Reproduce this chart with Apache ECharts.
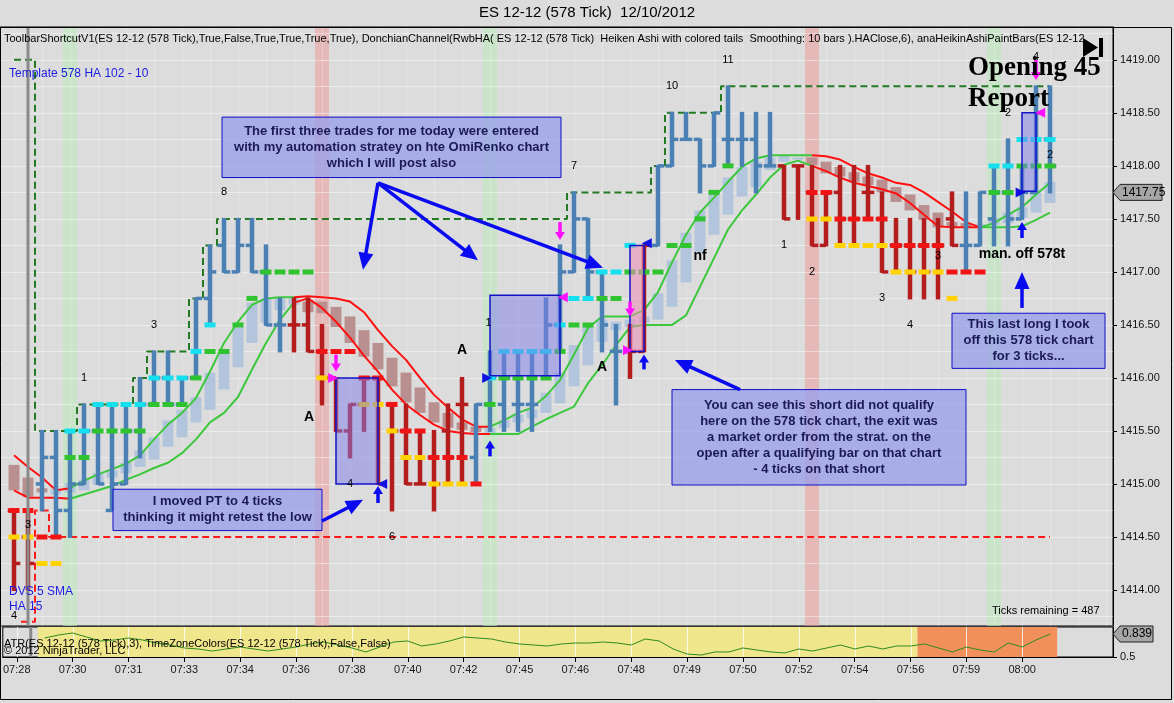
<!DOCTYPE html>
<html><head><meta charset="utf-8">
<script src="https://cdn.jsdelivr.net/npm/echarts@6/dist/echarts.min.js"></script>
<style>html,body{margin:0;padding:0;background:#dcdcdc;}#c{width:1174px;height:703px;}</style>
</head><body><div id="c"></div>
<script>
// ---------- data ----------
const timeLabels = ['07:28','07:30','07:31','07:33','07:34','07:36','07:38','07:40','07:42','07:45','07:46','07:48','07:49','07:50','07:52','07:54','07:56','07:59','08:00'];
const labelIdx = [0,4,8,12,16,20,24,28,32,36,40,44,48,52,56,60,64,68,72];
const priceTicks = [1414.0,1414.5,1415.0,1415.5,1416.0,1416.5,1417.0,1417.5,1418.0,1418.5,1419.0];
const gridPrices = [1413.75,1414.0,1414.25,1414.5,1414.75,1415.0,1415.25,1415.5,1415.75,1416.0,1416.25,1416.5,1416.75,1417.0,1417.25,1417.5,1417.75,1418.0,1418.25,1418.5,1418.75,1419.0,1419.25];

const high = [1414.75,1414.75,1415.5,1415.5,1415.5,1415.75,1415.75,1415.75,1415.75,1416.0,
1416.25,1416.25,1416.0,1416.75,1417.25,1417.5,1417.5,1417.5,1417.25,1416.75,
1416.75,1416.75,1416.5,1416.0,1415.75,1416.0,1416.0,1415.75,1415.75,1415.5,
1415.5,1415.75,1416.0,1415.75,1416.25,1416.25,1416.25,1416.25,1416.75,1417.25,
1417.75,1417.5,1417.0,1416.5,1416.5,1417.25,1418.0,1418.5,1418.5,1418.25,
1418.5,1418.75,1418.5,1418.5,1418.5,1418.0,1418.0,1418.0,1417.75,1418.0,
1418.0,1418.0,1417.75,1417.5,1417.5,1417.5,1417.5,1417.75,1417.75,1417.75,
1418.0,1418.25,1418.0,1418.75,1418.75];
const low = [1414.0,1414.0,1414.75,1414.5,1414.5,1415.0,1415.0,1414.75,1415.0,1415.25,
1415.75,1415.75,1415.75,1416.0,1416.5,1417.0,1417.0,1417.0,1416.5,1416.25,
1416.25,1416.25,1415.75,1415.5,1415.25,1415.5,1415.0,1414.75,1415.0,1415.0,
1414.75,1415.0,1415.0,1415.0,1415.5,1415.5,1415.5,1415.5,1416.0,1416.25,
1417.0,1416.75,1416.25,1415.75,1416.0,1416.25,1417.25,1418.0,1418.25,1417.75,
1418.0,1418.0,1418.0,1417.75,1418.0,1417.5,1417.5,1417.25,1417.25,1417.25,
1417.25,1417.5,1417.0,1417.0,1416.75,1416.75,1416.75,1417.25,1417.0,1417.25,
1417.25,1417.25,1417.5,1417.75,1417.75];
const open = [1414.75,1414.5,1415.0,1415.25,1414.75,1415.0,1415.5,1414.75,1415.0,1415.5,
1415.75,1416.0,1415.75,1416.0,1416.75,1417.25,1417.0,1417.25,1417.0,1416.5,
1416.5,1416.5,1416.25,1416.0,1415.5,1415.75,1416.0,1415.75,1415.5,1415.0,
1415.25,1415.5,1415.75,1415.25,1415.75,1415.75,1415.75,1415.75,1416.25,1416.5,
1417.0,1417.5,1417.0,1416.25,1416.25,1416.25,1417.25,1418.0,1418.25,1418.25,
1418.0,1418.25,1418.25,1418.25,1418.0,1418.0,1418.0,1417.75,1417.25,1417.75,
1417.5,1417.75,1417.5,1417.25,1417.25,1417.25,1417.25,1417.5,1417.25,1417.25,
1417.5,1417.75,1417.5,1417.75,1418.25];
const close = [1414.25,1414.25,1415.25,1414.75,1415.0,1415.5,1415.0,1415.0,1415.5,1415.75,
1416.0,1415.75,1416.0,1416.75,1417.0,1417.0,1417.25,1417.0,1416.5,1416.5,
1416.5,1416.25,1416.0,1415.5,1415.75,1416.0,1415.0,1415.5,1415.0,1415.0,
1415.0,1415.25,1415.75,1415.75,1416.0,1416.0,1415.75,1415.75,1416.5,1417.0,
1417.5,1417.0,1416.5,1416.25,1416.25,1417.25,1418.0,1418.25,1418.25,1418.0,
1418.5,1418.25,1418.25,1418.0,1418.0,1417.5,1418.0,1417.25,1417.75,1417.5,
1417.5,1417.75,1417.0,1417.25,1417.0,1417.0,1417.25,1417.25,1417.25,1417.75,
1417.75,1417.5,1417.75,1418.5,1418.0];
// paint colour runs: R = down (red), B = up (blue)
const paintRuns = [['R',2],['B',18],['R',13],['B',11],['R',2],['B',9],['R',13],['B',7]];

const haOpen = [1415.18,1415.06,1414.96,1414.90,1414.92,1414.94,1414.99,1415.06,1415.10,1415.16,
1415.23,1415.35,1415.44,1415.58,1415.70,1415.89,1416.10,1416.33,1416.52,1416.64,
1416.69,1416.72,1416.72,1416.67,1416.58,1416.45,1416.33,1416.19,1416.05,1415.91,
1415.77,1415.67,1415.58,1415.54,1415.48,1415.53,1415.58,1415.62,1415.67,1415.76,
1415.92,1416.12,1416.34,1416.45,1416.48,1416.52,1416.55,1416.67,1416.90,1417.18,
1417.35,1417.54,1417.71,1417.80,1417.96,1418.04,1418.06,1418.08,1418.04,1417.99,
1417.94,1417.90,1417.87,1417.80,1417.73,1417.63,1417.56,1417.47,1417.46,1417.42,
1417.44,1417.46,1417.51,1417.56,1417.65];
const haClose = [1414.94,1414.88,1414.92,1414.95,1415.01,1415.04,1415.10,1415.13,1415.20,1415.32,
1415.44,1415.60,1415.70,1415.82,1416.05,1416.24,1416.48,1416.71,1416.75,1416.75,
1416.75,1416.62,1416.61,1416.48,1416.33,1416.20,1416.08,1415.92,1415.77,1415.67,
1415.58,1415.53,1415.51,1415.49,1415.53,1415.60,1415.65,1415.70,1415.86,1416.05,
1416.31,1416.48,1416.55,1416.53,1416.55,1416.58,1416.80,1417.11,1417.37,1417.58,
1417.75,1417.89,1417.99,1418.04,1418.08,1418.10,1418.08,1418.01,1417.93,1417.90,
1417.85,1417.82,1417.75,1417.66,1417.58,1417.49,1417.42,1417.42,1417.42,1417.45,
1417.51,1417.56,1417.61,1417.75,1417.85];

const maUpper = [1415.27,1415.16,1415.06,1414.94,1414.96,1415.03,1415.09,1415.14,1415.19,1415.27,
1415.42,1415.56,1415.67,1415.81,1416.06,1416.33,1416.53,1416.69,1416.75,1416.76,
1416.76,1416.77,1416.76,1416.75,1416.72,1416.62,1416.45,1416.30,1416.17,1416.00,
1415.84,1415.72,1415.61,1415.54,1415.54,1415.60,1415.67,1415.72,1415.83,1415.98,
1416.22,1416.47,1416.58,1416.58,1416.58,1416.64,1416.81,1417.09,1417.35,1417.56,
1417.70,1417.85,1417.99,1418.07,1418.10,1418.10,1418.10,1418.10,1418.09,1418.06,
1417.99,1417.93,1417.89,1417.84,1417.82,1417.75,1417.66,1417.57,1417.47,1417.42,
1417.46,1417.54,1417.61,1417.73,1417.84];
const maLower = [1414.94,1414.87,1414.87,1414.87,1414.86,1414.90,1414.94,1414.98,1415.04,1415.09,
1415.15,1415.20,1415.29,1415.42,1415.58,1415.67,1415.82,1416.08,1416.33,1416.55,
1416.71,1416.75,1416.66,1416.53,1416.38,1416.21,1416.06,1415.89,1415.75,1415.65,
1415.56,1415.50,1415.48,1415.47,1415.47,1415.47,1415.47,1415.54,1415.61,1415.67,
1415.73,1415.95,1416.12,1416.31,1416.48,1416.50,1416.50,1416.50,1416.59,1416.86,
1417.13,1417.40,1417.58,1417.73,1417.89,1418.01,1418.05,1418.00,1417.95,1417.89,
1417.84,1417.81,1417.78,1417.74,1417.65,1417.54,1417.43,1417.42,1417.42,1417.42,
1417.42,1417.42,1417.43,1417.49,1417.56];
// trend regimes for the MA colour: [fromIdx, toIdx, 'r'|'g']
const maRegimes = [[0,4,'r'],[4,20,'g'],[20,34,'r'],[34,57,'g'],[57,69,'r'],[69,74,'g']];

const donchianUpper = [1419.0,1419.0,1415.5,1415.5,1415.5,1415.75,1415.75,1415.75,1415.75,1416.0,
1416.25,1416.25,1416.25,1416.75,1417.25,1417.5,1417.5,1417.5,1417.5,1417.5,
1417.5,1417.5,1417.5,1417.5,1417.5,1417.5,1417.5,1417.5,1417.5,1417.5,
1417.5,1417.5,1417.5,1417.5,1417.5,1417.5,1417.5,1417.5,1417.5,1417.5,
1417.75,1417.75,1417.75,1417.75,1417.75,1417.75,1418.0,1418.5,1418.5,1418.5,
1418.5,1418.75,1418.75,1418.75,1418.75,1418.75,1418.75,1418.75,1418.75,1418.75,
1418.75,1418.75,1418.75,1418.75,1418.75,1418.75,1418.75,1418.75,1418.75,1418.75,
1418.75,1418.75,1418.75,1418.75,1418.75];
const donchianLower = [null,1413.7,1414.75,1414.5,1414.5,1414.5,1414.5,1414.5,1414.5,1414.5,
1414.5,1414.5,1414.5,1414.5,1414.5,1414.5,1414.5,1414.5,1414.5,1414.5,
1414.5,1414.5,1414.5,1414.5,1414.5,1414.5,1414.5,1414.5,1414.5,1414.5,
1414.5,1414.5,1414.5,1414.5,1414.5,1414.5,1414.5,1414.5,1414.5,1414.5,
1414.5,1414.5,1414.5,1414.5,1414.5,1414.5,1414.5,1414.5,1414.5,1414.5,
1414.5,1414.5,1414.5,1414.5,1414.5,1414.5,1414.5,1414.5,1414.5,1414.5,
1414.5,1414.5,1414.5,1414.5,1414.5,1414.5,1414.5,1414.5,1414.5,1414.5,
1414.5,1414.5,1414.5,1414.5,1414.5];

const atr = [null,null,0.780,0.824,0.854,0.795,0.736,0.751,0.780,0.751,
0.706,0.677,0.633,0.618,0.588,0.618,0.647,0.618,0.588,0.618,
0.647,0.692,0.721,0.677,0.633,0.574,0.647,0.721,0.736,0.662,
0.692,0.736,0.795,0.780,0.765,0.721,0.692,0.677,0.662,0.692,
0.706,0.706,0.721,0.706,0.677,0.765,0.736,0.618,0.544,0.529,
0.574,0.574,0.633,0.603,0.574,0.559,0.618,0.588,0.633,0.677,
0.618,0.662,0.618,0.662,0.662,0.692,0.633,0.574,0.647,0.603,
0.574,0.706,0.647,0.751,0.839];
const lastPrice = 1417.75;
const lastAtr = 0.839;

// stop / signal segments: [fromIdx, toIdx, price, colour]
const stops = [
[0,1,1414.75,'r'],[0,1,1414.5,'y'],[2,3,1414.5,'r'],[2,3,1414.25,'y'],
[4,5,1415.5,'c'],[4,5,1415.25,'g'],[6,9,1415.75,'c'],[6,9,1415.5,'g'],
[10,12,1416.0,'c'],[10,12,1415.75,'g'],[13,13,1416.25,'c'],[13,13,1416.0,'g'],
[14,14,1416.5,'c'],[14,15,1416.25,'g'],[16,16,1416.5,'g'],[17,17,1416.75,'g'],[18,21,1417.0,'g'],
[22,24,1416.25,'r'],[22,22,1416.0,'y'],[25,26,1416.0,'r'],[25,26,1415.75,'y'],[27,27,1415.75,'r'],[27,27,1415.5,'y'],
[28,29,1415.5,'r'],[28,29,1415.25,'y'],[30,32,1415.25,'r'],[30,32,1415.0,'y'],[33,33,1415.0,'r'],
[34,34,1416.0,'c'],[34,34,1415.75,'g'],[35,38,1416.25,'c'],[35,38,1416.0,'g'],[39,39,1416.5,'c'],[39,39,1416.25,'g'],
[40,41,1416.75,'c'],[40,41,1416.5,'g'],[42,43,1416.75,'g'],[42,43,1417.0,'c'],[44,46,1417.0,'g'],[44,44,1417.25,'c'],
[47,48,1417.25,'g'],[49,49,1417.5,'g'],[50,50,1417.75,'g'],[51,51,1418.0,'g'],
[57,58,1417.75,'r'],[57,58,1417.5,'y'],[59,62,1417.5,'r'],[59,62,1417.25,'y'],[63,66,1417.25,'r'],[63,66,1417.0,'y'],
[67,69,1417.0,'r'],[67,67,1416.75,'y'],
[70,71,1417.75,'g'],[70,71,1418.0,'c'],[72,74,1418.0,'g'],[72,74,1418.25,'c']
];
// trade boxes: [fromIdx, toIdx, top, bottom, kind]
const tradeBoxes = [[23,26,1416.0,1415.0,'b'],[34,39,1416.78,1416.02,'b'],[44,45,1417.25,1416.25,'p'],[72,73,1418.5,1417.76,'b']];
// highlighted bars: [idx, colour]
const bands = [[4,'g'],[22,'r'],[34,'g'],[57,'r'],[70,'g']];
const grayLineIdx = 1;
// ATR pane background zones: [fromIdx, toIdx, colour]
const atrZones = [[1.5,64.5,'#f0e68c'],[64.5,74.5,'#f2905c']];

// text marks: [idx, price, text, style]
const labels = [
[15,1417.75,'8','n'],[10,1416.5,'3','n'],[5,1416.0,'1','n'],[21.07,1415.63,'A','b'],[32,1416.26,'A','b'],[42,1416.10,'A','b'],
[40,1418.0,'7','n'],[47,1418.75,'10','n'],[51,1419.0,'11','n'],[49,1417.15,'nf','b'],[55,1417.25,'1','n'],[57,1417.0,'2','n'],
[62,1416.75,'3','n'],[64,1416.5,'4','n'],[66,1417.15,'3','n'],[71,1418.5,'2','n'],[74,1418.1,'2','n'],[73,1419.03,'4','n'],
[72,1417.17,'man. off 578t','b'],[24,1415.0,'4','n'],[27,1414.5,'6','n'],[1,1414.61,'3','n'],[0,1413.75,'4','n'],[33.9,1416.52,'1','n'],
[68.14,1418.92,'Opening 45','big'],[68.14,1418.63,'Report','big']
];
// callouts: [fromIdx, toIdx, top, bottom, lines]
const callouts = [
[14.86,39.07,1418.46,1417.89,['The first three trades for me today were entered','with my automation stratey on hte OmiRenko chart','which I will post also']],
[7.07,22.0,1414.95,1414.56,['I moved PT to 4 ticks','thinking it might retest the low']],
[47.0,68.0,1415.89,1414.99,['You can see this short did not qualify','here on the 578 tick chart, the exit was','a market order from the strat. on the','open after a qualifying bar on that chart','- 4 ticks on that short']],
[67.0,77.93,1416.61,1416.09,['This last long I took','off this 578 tick chart','for 3 ticks...']]
];
// arrows: [fromIdx, fromPrice, toIdx, toPrice, kind]
const arrows = [
[26,1417.84,24.93,1417.02,'big'],[26,1417.84,33.14,1417.11,'big'],[26,1417.84,42.07,1417.04,'big'],
[22,1414.65,24.93,1414.85,'big'],[51.86,1415.89,47.21,1416.17,'big'],[72,1416.66,72,1417.0,'big'],
[26,1414.82,26,1414.98,'up'],[34,1415.26,34,1415.41,'up'],[45,1416.08,45,1416.22,'up'],[72,1417.32,72,1417.47,'up'],
[23,1416.22,23,1416.06,'dn'],[39,1417.47,39,1417.30,'dn'],[44,1416.72,44,1416.58,'dn'],[73,1419.0,73,1418.81,'dn']
];
// small triangles: [idx, price, direction, colour]
const markers = [
[22.8,1416.0,'r','m'],[39.2,1416.76,'l','m'],[43.86,1416.26,'r','m'],[73.3,1418.5,'l','m'],
[26.3,1415.0,'l','b'],[33.8,1416.0,'r','b'],[45.2,1417.27,'l','b'],[71.9,1417.75,'r','b']
];

// ---------- chart ----------
const YMIN = 1413.66, YMAX = 1419.31;
const FONT = '"Liberation Sans", Arial, sans-serif';
const paint = [];
paintRuns.forEach(([c, n]) => { for (let k = 0; k < n; k++) paint.push(c); });
const idxs = high.map((_, i) => i);
const STOPC = {c:'#14e0ee', g:'#2fc42f', r:'#f01414', y:'#ffd200'};

function bgRender(params, api) {
  const cs = params.coordSys, ch = [];
  bands.forEach(([i, k]) => {
    const a = api.coord([i - 0.5, YMAX])[0], b = api.coord([i + 0.5, YMAX])[0];
    ch.push({type:'rect', shape:{x:a, y:cs.y, width:b - a, height:cs.height},
      style:{fill: k === 'g' ? 'rgba(185,235,185,0.55)' : 'rgba(240,150,150,0.5)'}});
  });
  gridPrices.forEach(p => {
    const y = Math.round(api.coord([0, p])[1]) + 0.5;
    ch.push({type:'line', shape:{x1:cs.x, y1:y, x2:cs.x + cs.width, y2:y}, style:{stroke:'rgba(255,255,255,0.42)', lineWidth:1}});
  });
  for (let i = 0; i <= 78; i += 2) {
    const x = Math.round(api.coord([i, YMAX])[0]) + 0.5;
    ch.push({type:'line', shape:{x1:x, y1:cs.y, x2:x, y2:cs.y + cs.height}, style:{stroke:'rgba(255,255,255,0.25)', lineWidth:1}});
  }
  return {type:'group', children:ch};
}
function atrBgRender(params, api) {
  const cs = params.coordSys, ch = [];
  atrZones.forEach(([a, b, col]) => {
    const xa = api.coord([a, 0.7])[0], xb = api.coord([b, 0.7])[0];
    ch.push({type:'rect', shape:{x:xa, y:cs.y, width:xb - xa, height:cs.height}, style:{fill:col}});
  });
  labelIdx.forEach(i => {
    const x = Math.round(api.coord([i, 0.7])[0]) + 0.5;
    ch.push({type:'line', shape:{x1:x, y1:cs.y, x2:x, y2:cs.y + cs.height}, style:{stroke:'rgba(255,255,255,0.8)', lineWidth:1}});
  });
  const gx = api.coord([grayLineIdx, 0.7])[0];
  ch.push({type:'line', shape:{x1:gx, y1:cs.y, x2:gx, y2:cs.y + cs.height}, style:{stroke:'#8a8a8a', lineWidth:3}});
  return {type:'group', children:ch};
}
function haRender(params, api) {
  const i = api.value(0), o = api.value(1), c = api.value(2);
  const p1 = api.coord([i, Math.max(o, c)]), p2 = api.coord([i, Math.min(o, c)]);
  const w = api.size([1, 0])[0] * 0.78;
  return {type:'rect', shape:{x:p1[0] - w / 2, y:p1[1], width:w, height:Math.max(2, p2[1] - p1[1])},
    style:{fill: c >= o ? '#b3c5dd' : '#b98f8f'}};
}
function barRender(params, api) {
  const i = api.value(0);
  const h = api.coord([i, api.value(1)]), l = api.coord([i, api.value(2)]);
  const o = api.coord([i, api.value(3)]), c = api.coord([i, api.value(4)]);
  const col = api.value(5) ? '#b31d1d' : '#4a80b4';
  const t = api.size([1, 0])[0] * 0.45;
  return {type:'group', children:[
    {type:'line', shape:{x1:h[0], y1:h[1] - 1, x2:l[0], y2:l[1] + 1}, style:{stroke:col, lineWidth:4.5}},
    {type:'line', shape:{x1:o[0] - t, y1:o[1], x2:o[0], y2:o[1]}, style:{stroke:col, lineWidth:3.5}},
    {type:'line', shape:{x1:c[0], y1:c[1], x2:c[0] + t, y2:c[1]}, style:{stroke:col, lineWidth:3.5}}
  ]};
}
function stopRender(params, api) {
  const s = stops[params.dataIndex];
  const w = api.size([1, 0])[0];
  const a = api.coord([s[0], s[2]]), b = api.coord([s[1], s[2]]);
  return {type:'line', shape:{x1:a[0] - w / 2 + 1.5, y1:a[1], x2:b[0] + w / 2 - 1.5, y2:b[1]},
    style:{stroke:STOPC[s[3]], lineWidth:5, lineDash:[11, 3]}};
}
function boxRender(params, api) {
  const b = tradeBoxes[params.dataIndex];
  const p1 = api.coord([b[0], b[2]]), p2 = api.coord([b[1], b[3]]);
  return {type:'rect', shape:{x:p1[0], y:p1[1], width:p2[0] - p1[0], height:p2[1] - p1[1]},
    style:{fill: b[4] === 'p' ? 'rgba(236,140,180,0.55)' : 'rgba(125,125,235,0.5)', stroke:'#1212c8', lineWidth:1.5}};
}
function fgRender(params, api) {
  const cs = params.coordSys;
  const gx = api.coord([grayLineIdx, YMAX])[0];
  return {type:'line', shape:{x1:gx, y1:cs.y, x2:gx, y2:cs.y + cs.height}, style:{stroke:'#8a8a8a', lineWidth:3}};
}
function arrowShape(p0, p1, col, lw, L, W) {
  const dx = p1[0] - p0[0], dy = p1[1] - p0[1], len = Math.hypot(dx, dy) || 1;
  const ux = dx / len, uy = dy / len, nx = -uy, ny = ux;
  const bx = p1[0] - ux * L, by = p1[1] - uy * L;
  return [
    {type:'line', shape:{x1:p0[0], y1:p0[1], x2:bx + ux * 2, y2:by + uy * 2}, style:{stroke:col, lineWidth:lw}},
    {type:'polygon', shape:{points:[[p1[0], p1[1]], [bx + nx * W / 2, by + ny * W / 2], [bx - nx * W / 2, by - ny * W / 2]]}, style:{fill:col}}
  ];
}
function arrowRender(params, api) {
  const a = arrows[params.dataIndex];
  const p0 = api.coord([a[0], a[1]]), p1 = api.coord([a[2], a[3]]);
  let ch;
  if (a[4] === 'big') ch = arrowShape(p0, p1, '#0a0af0', 3.5, 17, 15);
  else if (a[4] === 'up') ch = arrowShape(p0, p1, '#0a0af0', 3.5, 8, 10);
  else ch = arrowShape(p0, p1, '#ff10ff', 3.5, 8, 10);
  return {type:'group', children:ch};
}
function markerRender(params, api) {
  const m = markers[params.dataIndex];
  const p = api.coord([m[0], m[1]]), s = 5;
  const pts = m[2] === 'r' ? [[p[0] + s, p[1]], [p[0] - s, p[1] - s], [p[0] - s, p[1] + s]]
                           : [[p[0] - s, p[1]], [p[0] + s, p[1] - s], [p[0] + s, p[1] + s]];
  return {type:'polygon', shape:{points:pts}, style:{fill: m[3] === 'm' ? '#ff10ff' : '#1010e0'}};
}
function labelRender(params, api) {
  const L = labels[params.dataIndex];
  const p = api.coord([L[0], L[1]]);
  const st = L[3];
  const font = st === 'n' ? '11px ' + FONT : st === 'b' ? 'bold 14px ' + FONT : 'bold 27px "Liberation Serif", "Times New Roman", serif';
  return {type:'text', x:p[0], y:p[1], style:{text:L[2], font:font, fill:'#000',
    align: st === 'big' ? 'left' : 'center', verticalAlign:'middle', textAlign: st === 'big' ? 'left' : 'center', textVerticalAlign:'middle'}};
}
function calloutRender(params, api) {
  const c = callouts[params.dataIndex];
  const p1 = api.coord([c[0], c[2]]), p2 = api.coord([c[1], c[3]]);
  return {type:'group', children:[
    {type:'rect', shape:{x:p1[0], y:p1[1], width:p2[0] - p1[0], height:p2[1] - p1[1]},
      style:{fill:'rgba(150,155,236,0.72)', stroke:'#1010c8', lineWidth:1}},
    {type:'text', x:(p1[0] + p2[0]) / 2, y:(p1[1] + p2[1]) / 2,
      style:{text:c[4].join('\n'), font:'bold 13px ' + FONT, fill:'#1a1a55', lineHeight:16,
        align:'center', verticalAlign:'middle', textAlign:'center', textVerticalAlign:'middle'}}
  ]};
}
function tagShape(p, text, w) {
  const x = p[0], y = p[1];
  return {type:'group', children:[
    {type:'polygon', shape:{points:[[x, y], [x + 7, y - 8], [x + w, y - 8], [x + w, y + 8], [x + 7, y + 8]]},
      style:{fill:'#a6a6a6', stroke:'#222', lineWidth:1}},
    {type:'text', x:x + 9, y:y, style:{text:text, font:'12px ' + FONT, fill:'#000', align:'left', verticalAlign:'middle', textAlign:'left', textVerticalAlign:'middle'}}
  ]};
}

const series = [];
series.push({type:'custom', xAxisIndex:0, yAxisIndex:0, silent:true, z:1, renderItem:bgRender, data:[[0, 1416]]});
series.push({type:'custom', xAxisIndex:1, yAxisIndex:1, silent:true, z:1, renderItem:atrBgRender, data:[[0, 0.7]]});
series.push({type:'custom', xAxisIndex:0, yAxisIndex:0, z:2, renderItem:haRender,
  data: idxs.map(i => [i, haOpen[i], haClose[i]])});
series.push({type:'line', xAxisIndex:0, yAxisIndex:0, z:3, step:'middle', symbol:'none',
  lineStyle:{color:'#237a23', width:2, type:[7, 4]}, data: idxs.map(i => [i, donchianUpper[i]])});
series.push({type:'line', xAxisIndex:0, yAxisIndex:0, z:3, step:'middle', symbol:'none', connectNulls:false,
  lineStyle:{color:'#ff1a1a', width:2, type:[7, 4]}, data: idxs.map(i => [i, donchianLower[i]])});
maRegimes.forEach(([a, b, k]) => {
  const col = k === 'r' ? '#ff1010' : '#3cc83c';
  [maUpper, maLower].forEach(arr => {
    const d = [];
    for (let i = a; i <= b; i++) d.push([i, arr[i]]);
    series.push({type:'line', xAxisIndex:0, yAxisIndex:0, z:4, symbol:'none', lineStyle:{color:col, width:2}, data:d});
  });
});
series.push({type:'custom', xAxisIndex:0, yAxisIndex:0, z:5, renderItem:barRender,
  data: idxs.map(i => [i, high[i], low[i], open[i], close[i], paint[i] === 'R' ? 1 : 0])});
series.push({type:'custom', xAxisIndex:0, yAxisIndex:0, z:6, renderItem:stopRender, data: stops.map(s => [s[0], s[2]])});
series.push({type:'custom', xAxisIndex:0, yAxisIndex:0, z:7, renderItem:boxRender, data: tradeBoxes.map(b => [b[0], b[2]])});
series.push({type:'custom', xAxisIndex:0, yAxisIndex:0, z:8, silent:true, renderItem:fgRender, data:[[0, 1416]]});
series.push({type:'custom', xAxisIndex:0, yAxisIndex:0, z:9, renderItem:calloutRender, data: callouts.map(c => [c[0], c[2]])});
series.push({type:'custom', xAxisIndex:0, yAxisIndex:0, z:10, renderItem:arrowRender, data: arrows.map(a => [a[0], a[1]])});
series.push({type:'custom', xAxisIndex:0, yAxisIndex:0, z:10, renderItem:markerRender, data: markers.map(m => [m[0], m[1]])});
series.push({type:'custom', xAxisIndex:0, yAxisIndex:0, z:11, renderItem:labelRender, data: labels.map(l => [l[0], l[1]]), clip:false});
series.push({type:'custom', xAxisIndex:0, yAxisIndex:0, z:12, clip:false,
  renderItem:(params, api) => tagShape(api.coord([78.5, lastPrice]), lastPrice.toFixed(2), 49), data:[[78.5, lastPrice]]});
series.push({type:'line', xAxisIndex:1, yAxisIndex:1, z:5, symbol:'none', lineStyle:{color:'#2e8a1e', width:1},
  data: idxs.filter(i => atr[i] !== null).map(i => [i, atr[i]])});
series.push({type:'custom', xAxisIndex:1, yAxisIndex:1, z:12, clip:false,
  renderItem:(params, api) => tagShape(api.coord([78.5, lastAtr]), lastAtr.toFixed(3), 40), data:[[78.5, lastAtr]]});

const option = {
  animation:false,
  backgroundColor:'#dcdcdc',
  textStyle:{fontFamily:FONT},
  grid:[
    {left:0, right:61, top:27, height:599, show:true, backgroundColor:'#dcdcdc', borderColor:'#000', borderWidth:1},
    {left:0, right:61, top:627, height:30, show:true, backgroundColor:'#dcdcdc', borderColor:'#000', borderWidth:1}
  ],
  xAxis:[
    {gridIndex:0, type:'value', min:-1, max:78.5, axisLine:{show:false, onZero:false}, axisTick:{show:false}, axisLabel:{show:false}, splitLine:{show:false}},
    {gridIndex:1, type:'value', min:-1, max:78.5, position:'bottom',
      axisLine:{show:true, onZero:false, lineStyle:{color:'#000', width:1}},
      axisTick:{show:true, customValues:labelIdx, length:5, lineStyle:{color:'#000'}},
      axisLabel:{customValues:labelIdx, formatter:v => timeLabels[labelIdx.indexOf(Math.round(v))] || '', fontSize:11, color:'#1a1a1a', margin:7, fontFamily:FONT},
      splitLine:{show:false}}
  ],
  yAxis:[
    {gridIndex:0, type:'value', position:'right', min:YMIN, max:YMAX,
      axisLine:{show:true, onZero:false, lineStyle:{color:'#000'}},
      axisTick:{show:true, customValues:priceTicks, length:4, lineStyle:{color:'#000'}},
      axisLabel:{customValues:priceTicks, formatter:v => v.toFixed(2), fontSize:11, color:'#111', margin:7, fontFamily:FONT},
      splitLine:{show:false}},
    {gridIndex:1, type:'value', position:'right', min:0.5, max:0.942,
      axisLine:{show:true, onZero:false, lineStyle:{color:'#000'}},
      axisTick:{show:true, customValues:[0.5], length:4, lineStyle:{color:'#000'}},
      axisLabel:{customValues:[0.5], formatter:v => String(v), fontSize:11, color:'#111', margin:7, fontFamily:FONT},
      splitLine:{show:false}}
  ],
  series: series,
  graphic:[
    {type:'text', left:'center', top:5, style:{text:'ES 12-12 (578 Tick)  12/10/2012', font:'15px ' + FONT, fill:'#000'}, z:100},
    {type:'text', x:4, y:33, style:{text:'ToolbarShortcutV1(ES 12-12 (578 Tick),True,False,True,True,True,True), DonchianChannel(RwbHA( ES 12-12 (578 Tick)  Heiken Ashi with colored tails  Smoothing: 10 bars ).HAClose,6), anaHeikinAshiPaintBars(ES 12-12', font:'11px ' + FONT, fill:'#000'}, z:100},
    {type:'text', x:9, y:68, style:{text:'Template 578 HA 102 - 10', font:'12px ' + FONT, fill:'#1c1ce0'}, z:100},
    {type:'text', x:9, y:586, style:{text:'DVS 5 SMA', font:'12px ' + FONT, fill:'#1c1ce0'}, z:100},
    {type:'text', x:9, y:601, style:{text:'HA 15', font:'12px ' + FONT, fill:'#1c1ce0'}, z:100},
    {type:'text', x:992, y:605, style:{text:'Ticks remaining = 487', font:'11px ' + FONT, fill:'#000'}, z:100},
    {type:'text', x:4, y:638, style:{text:'ATR(ES 12-12 (578 Tick),3), TimeZoneColors(ES 12-12 (578 Tick),False,False)', font:'11px ' + FONT, fill:'#000'}, z:100},
    {type:'text', x:4, y:645, style:{text:'\u00a9 2012 NinjaTrader, LLC', font:'11px ' + FONT, fill:'#000'}, z:100},
    {type:'polygon', shape:{points:[[1083,38],[1083,57],[1098,47.5]]}, style:{fill:'#000'}, z:100},
    {type:'rect', shape:{x:1099, y:38, width:4, height:19}, style:{fill:'#000'}, z:100},
    {type:'rect', shape:{x:0.5, y:27.5, width:1171, height:672}, style:{fill:'none', stroke:'#000', lineWidth:1}, z:100, silent:true}
  ]
};
const chart = echarts.init(document.getElementById('c'));
chart.setOption(option);
</script></body></html>
